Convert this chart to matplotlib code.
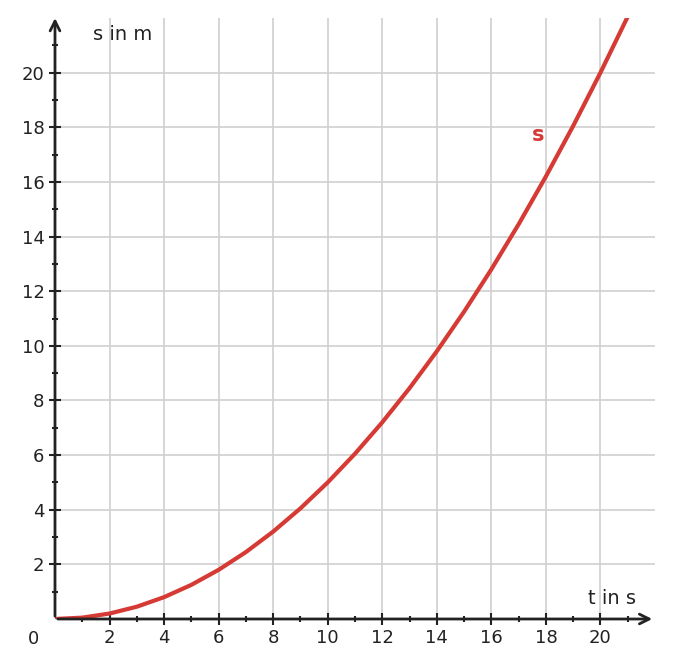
import matplotlib
matplotlib.use("Agg")
import matplotlib.pyplot as plt

t_vals = [0,1,2,3,4,5,6,7,8,9,10,11,12,13,14,15,16,17,18,19,20,21,21.2]
s_vals = [0,0.05,0.2,0.45,0.8,1.25,1.8,2.45,3.2,4.05,5,6.05,7.2,8.45,9.8,11.25,12.8,14.45,16.2,18.05,20,22.05,22.47]
x_ticks = [2,4,6,8,10,12,14,16,18,20]
y_ticks = [2,4,6,8,10,12,14,16,18,20]

fig = plt.figure(figsize=(6.74,6.68), dpi=100)
ax = fig.add_axes([55/674, 49/668, 600/674, 601/668])
ax.set_xlim(0,22); ax.set_ylim(0,22)
for v in x_ticks:
    ax.axvline(v, color='#d0d0d0', lw=1.2, zorder=0)
for v in y_ticks:
    ax.axhline(v, color='#d0d0d0', lw=1.2, zorder=0)
for sp in ax.spines.values(): sp.set_visible(False)
ax.plot(t_vals, s_vals, color='#d63a35', lw=3, zorder=3, solid_capstyle='round')
ax.set_xticks(x_ticks); ax.set_yticks(y_ticks)
ax.set_xticks(range(1,22,2), minor=True); ax.set_yticks(range(1,22,2), minor=True)
ax.tick_params(which='major', direction='inout', length=8, width=1.5, color='#222222', labelsize=13, labelcolor='#222222')
ax.tick_params(which='minor', direction='inout', length=5, width=1.5, color='#222222')
ax.annotate('', xy=(22,0), xytext=(0,0), xycoords='data',
            arrowprops=dict(arrowstyle='->,head_length=0.7,head_width=0.35', lw=2, color='#222222'), annotation_clip=False)
ax.annotate('', xy=(0,22.1), xytext=(0,0), xycoords='data',
            arrowprops=dict(arrowstyle='->,head_length=0.7,head_width=0.35', lw=2, color='#222222'), annotation_clip=False)
ax.text(-0.6,-0.4,'0', fontsize=13, color='#222222', ha='right', va='top')
ax.text(1.4,21.4,'s in m', fontsize=14, color='#222222', va='center')
ax.text(21.3,0.75,'t in s', fontsize=14, color='#222222', ha='right', va='center')
ax.text(17.7,17.7,'s', fontsize=15, color='#d63a35', fontweight='bold', ha='center', va='center')
fig.savefig('out.png', dpi=100)
